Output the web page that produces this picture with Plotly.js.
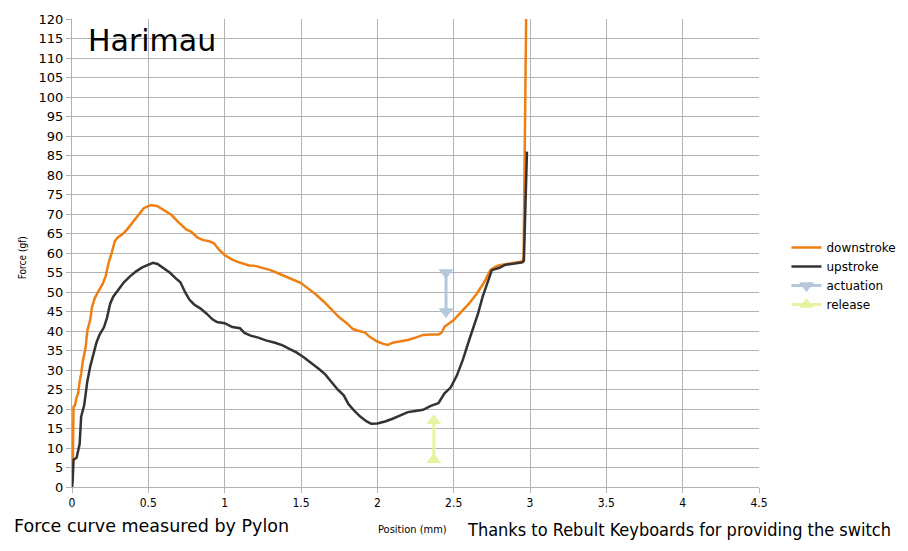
<!DOCTYPE html>
<html>
<head>
<meta charset="utf-8">
<script src="https://cdn.plot.ly/plotly-3.0.1.min.js"></script>
<style>html,body{margin:0;padding:0;background:#fff;}#chart{width:908px;height:551px;}</style>
</head>
<body>
<div id="chart"></div>
<script>
// Downstroke (orange)
const downX = [0,0.005,0.01,0.02,0.03,0.04,0.05,0.06,0.07,0.08,0.09,0.1,0.12,0.13,0.15,0.17,0.2,0.22,0.24,0.26,0.28,0.3,0.33,0.36,0.4,0.44,0.47,0.5,0.52,0.56,0.6,0.65,0.7,0.75,0.78,0.82,0.86,0.9,0.93,0.96,1.0,1.04,1.08,1.12,1.16,1.2,1.25,1.3,1.35,1.4,1.45,1.5,1.55,1.6,1.65,1.7,1.75,1.8,1.84,1.88,1.92,1.95,2.0,2.04,2.07,2.1,2.15,2.2,2.25,2.3,2.35,2.4,2.42,2.44,2.5,2.55,2.6,2.65,2.7,2.74,2.77,2.8,2.85,2.9,2.95,2.958,2.966,2.97,2.976];
const downY = [0,5,20.5,21,23,24,27,29,32,34,36,40,43,46,48.5,50,52,54,57.5,60,63,64,64.8,66,68,70,71.5,72,72.3,72,71,69.8,67.8,66,65.5,64,63.3,63,62.5,61,59.5,58.5,57.8,57.2,56.8,56.7,56.2,55.6,54.8,54,53.3,52.3,50.8,49.3,47.5,45.5,43.5,42,40.5,40,39.6,38.5,37.3,36.7,36.4,37,37.3,37.7,38.3,39,39.1,39.1,39.5,41.1,42.8,45,47,49.5,52.5,55.6,56.4,56.9,57.2,57.4,57.8,59,85,100,125];

// Upstroke (dark grey)
const upX = [0,0.005,0.01,0.03,0.05,0.06,0.08,0.1,0.12,0.14,0.16,0.18,0.21,0.23,0.25,0.27,0.3,0.34,0.38,0.42,0.46,0.5,0.53,0.56,0.6,0.64,0.68,0.71,0.74,0.77,0.8,0.84,0.88,0.92,0.95,1.0,1.05,1.1,1.13,1.17,1.22,1.27,1.33,1.38,1.42,1.47,1.52,1.57,1.62,1.66,1.7,1.74,1.78,1.81,1.85,1.89,1.93,1.96,2.0,2.05,2.1,2.15,2.2,2.25,2.3,2.35,2.4,2.44,2.48,2.52,2.56,2.6,2.63,2.66,2.69,2.72,2.75,2.8,2.84,2.9,2.95,2.96,2.975,2.98];
const upY = [0,2,7,7.5,11,18,21,27,31,34,37,39,41,43.5,47,48.8,50.3,52.5,54,55.3,56.3,57,57.5,57.2,56,55,53.5,52.5,50,48,46.8,45.8,44.5,43,42.3,42,41,40.7,39.5,38.8,38.3,37.6,37,36.3,35.5,34.5,33.2,31.8,30.2,28.8,27,25,23.5,21.3,19.5,18,16.8,16.2,16.3,16.8,17.5,18.3,19.2,19.5,19.8,20.8,21.5,24,25.5,28.5,32.6,37.5,41,44.5,48.8,52.5,55.6,56.2,57,57.3,57.6,58,78,86];

// Actuation / release markers
const actX = [2.45, 2.45];
const actY = [55, 45];
const relX = [2.37, 2.37];
const relY = [17, 7];

const xTicks = [0,0.5,1,1.5,2,2.5,3,3.5,4,4.5];
const yTicks = [];
for (let v = 0; v <= 120; v += 5) yTicks.push(v);

const traces = [
  {x: downX, y: downY, name: 'downstroke', mode: 'lines', line: {color: '#ef7f12', width: 2.5}},
  {x: upX, y: upY, name: 'upstroke', mode: 'lines', line: {color: '#333333', width: 2.5}},
  {x: actX, y: actY, name: 'actuation', mode: 'lines+markers', line: {color: '#b4c7dc', width: 3},
   marker: {symbol: 'triangle-down', size: 13, color: '#b4c7dc'}},
  {x: relX, y: relY, name: 'release', mode: 'lines+markers', line: {color: '#e8f2a1', width: 3},
   marker: {symbol: 'triangle-up', size: 13, color: '#e8f2a1'}}
];

const gridC = '#b3b3b3';
const layout = {
  width: 908, height: 551,
  margin: {l: 72, r: 149, t: 19, b: 64, autoexpand: false},
  paper_bgcolor: '#ffffff', plot_bgcolor: '#ffffff',
  font: {family: 'DejaVu Sans', color: '#000000'},
  showlegend: true,
  legend: {x: 1.04, xanchor: 'left', y: 0.451, yanchor: 'middle', font: {size: 12, family: 'DejaVu Sans'},
           bgcolor: 'rgba(0,0,0,0)', tracegroupgap: 0, itemwidth: 30},
  xaxis: {range: [0, 4.5], tickvals: xTicks, ticktext: xTicks.map(String), showgrid: true, gridcolor: gridC, gridwidth: 1,
          zeroline: false, showline: true, linecolor: gridC, ticks: 'outside', ticklen: 5, tickcolor: gridC,
          tickfont: {size: 12, family: 'DejaVu Sans Condensed, DejaVu Sans', color: '#000'}},
  yaxis: {range: [0, 120], tickvals: yTicks, showgrid: true, gridcolor: gridC, gridwidth: 1,
          zeroline: false, showline: true, linecolor: gridC, ticks: 'outside', ticklen: 5, tickcolor: gridC,
          tickfont: {size: 13, family: 'DejaVu Sans', color: '#000'}},
  annotations: [
    {text: 'Harimau', xref: 'paper', yref: 'paper', x: 0.021, y: 0.996, xanchor: 'left', yanchor: 'top',
     showarrow: false, font: {size: 30, family: 'DejaVu Sans', color: '#000'}},
    {text: 'Force curve measured by Pylon', xref: 'paper', yref: 'paper', x: -0.088, y: -0.083, xanchor: 'left', yanchor: 'middle',
     showarrow: false, font: {size: 17.5, family: 'DejaVu Sans', color: '#000'}},
    {text: 'Thanks to Rebult Keyboards for providing the switch', xref: 'paper', yref: 'paper', x: 0.572, y: -0.091, xanchor: 'left', yanchor: 'middle',
     showarrow: false, font: {size: 18, family: 'DejaVu Sans Condensed, DejaVu Sans', color: '#000'}},
    {text: 'Position (mm)', xref: 'paper', yref: 'paper', x: 0.496, y: -0.09, xanchor: 'center', yanchor: 'middle',
     showarrow: false, font: {size: 11, family: 'DejaVu Sans Condensed, DejaVu Sans', color: '#000'}},
    {text: 'Force (gf)', xref: 'paper', yref: 'paper', x: -0.072, y: 0.49, xanchor: 'center', yanchor: 'middle', textangle: -90,
     showarrow: false, font: {size: 10, family: 'DejaVu Sans Condensed, DejaVu Sans', color: '#000'}}
  ]
};

Plotly.newPlot('chart', traces, layout, {staticPlot: true, displayModeBar: false});
</script>
</body>
</html>
